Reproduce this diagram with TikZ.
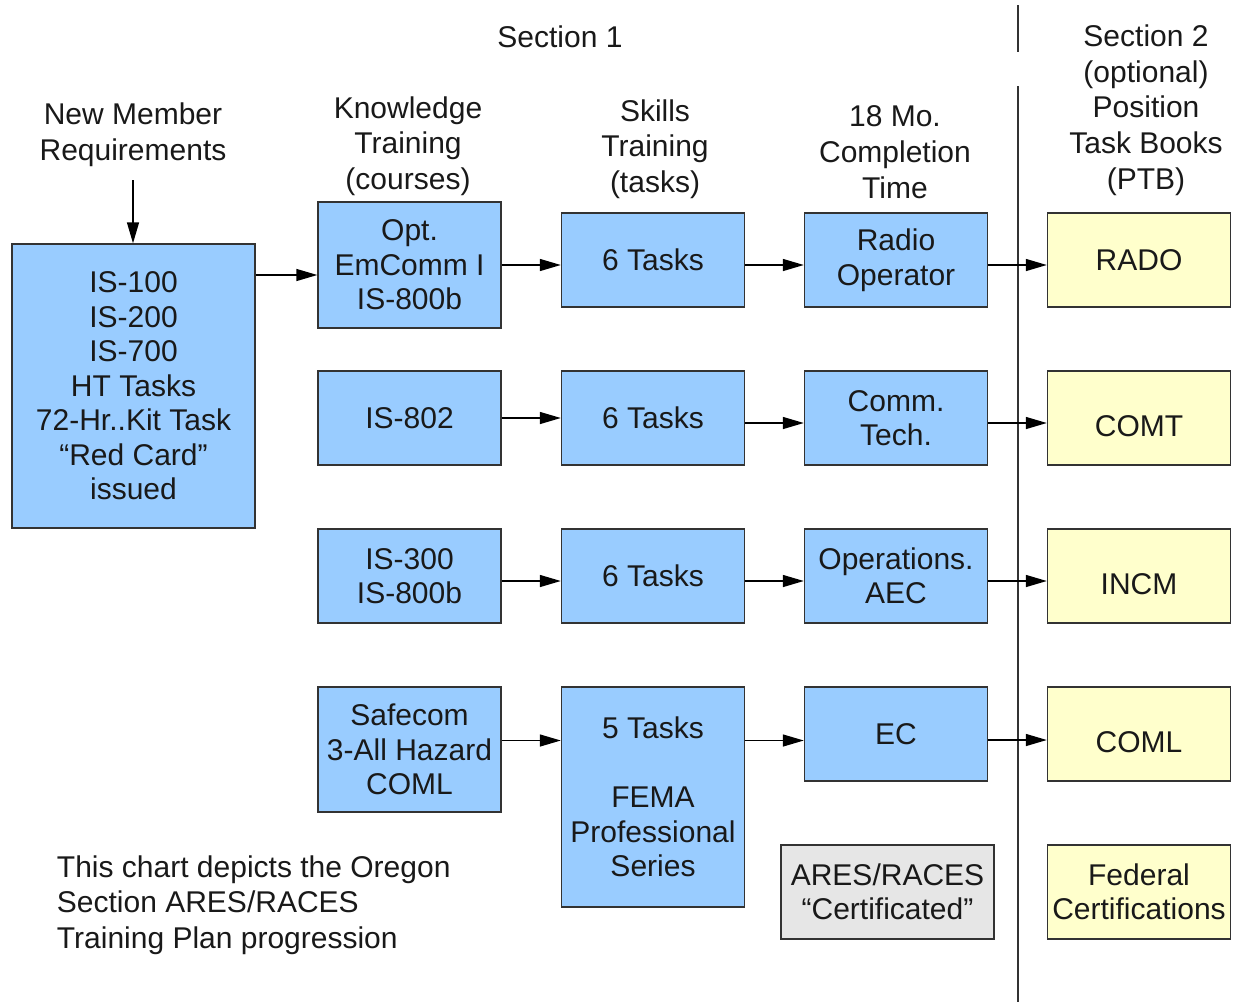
\documentclass[tikz,border=0pt]{standalone}
\usepackage{fontspec}
\setmainfont{Liberation Sans}
\usetikzlibrary{arrows.meta}

\begin{document}
\begin{tikzpicture}[x=1pt,y=1pt,yscale=-1,xscale=1,
  every node/.style={inner sep=0.75pt,font=\fontsize{30}{34.5}\selectfont,text=black!90,align=center},
  heading/.style={font=\fontsize{30}{35.7}\selectfont},
  bluebox/.style={draw=black!80,line width=1.4pt,fill={rgb,255:red,153;green,204;blue,255},minimum width=183pt,minimum height=94pt},
  yellowbox/.style={bluebox,fill={rgb,255:red,255;green,255;blue,204}},
  greybox/.style={bluebox,fill={rgb,255:red,230;green,230;blue,230}},
  flow/.style={line width=1.4pt,-{Triangle[length=21pt,width=12pt]}}]
\useasboundingbox (0,0) rectangle (1233,1002);

%Straight Lines: section divider
\draw [line width=1.3pt,black!80] (1018,5) -- (1018,52) (1018,86) -- (1018,1002);

% Text Node
\node (sec1) at (560,37) {Section 1};
% Text Node
\node [heading] (sec2) at (1146,110) {Section 2\\(optional)\\Position\\Task Books\\(PTB)};
% Text Node
\node [heading] (hnew) at (133,135) {New Member\\Requirements};
% Text Node
\node [heading] (hknow) at (408,146) {Knowledge\\Training\\(courses)};
% Text Node
\node [heading] (hskill) at (655,149) {Skills\\Training\\(tasks)};
% Text Node
\node [heading] (htime) at (895,152) {18 Mo.\\Completion\\Time};

%Shape: Rectangle, new member
\node [bluebox,minimum width=243pt,minimum height=284pt] (newm) at (133.5,386) {IS-100\\IS-200\\IS-700\\HT Tasks\\72-Hr..Kit Task\\“Red Card”\\issued};

%Shape: Rectangle, knowledge column
\node [bluebox,minimum height=126pt] (know1) at (409.5,265) {Opt.\\EmComm I\\IS-800b};
\node [bluebox] (know2) at (409.5,418) {IS-802};
\node [bluebox] (know3) at (409.5,576) {IS-300\\IS-800b};
\node [bluebox,minimum height=125pt] (know4) at (409.5,749.5) {Safecom\\3-All Hazard\\COML};

%Shape: Rectangle, skills column
\node [bluebox] (skill1) at (653,260) {6 Tasks};
\node [bluebox] (skill2) at (653,418) {6 Tasks};
\node [bluebox] (skill3) at (653,576) {6 Tasks};
\node [bluebox,minimum height=220pt] (skill4) at (653,797) {5 Tasks\\[34.5pt]FEMA\\Professional\\Series};

%Shape: Rectangle, completion column
\node [bluebox] (time1) at (896,260) {Radio\\Operator};
\node [bluebox] (time2) at (896,418) {Comm.\\Tech.};
\node [bluebox] (time3) at (896,576) {Operations.\\AEC};
\node [bluebox] (time4) at (896,734) {EC};
\node [greybox,minimum width=213pt] (cert) at (887.5,892) {ARES/RACES\\“Certificated”};

%Shape: Rectangle, task books column
\node [yellowbox] (ptb1) at (1139,260) {RADO};
\node [yellowbox] (ptb2) at (1139,418) {\raisebox{-8pt}[\height][\depth]{COMT}};
\node [yellowbox] (ptb3) at (1139,576) {\raisebox{-8pt}[\height][\depth]{INCM}};
\node [yellowbox] (ptb4) at (1139,734) {\raisebox{-8pt}[\height][\depth]{COML}};
\node [yellowbox] (fed) at (1139,892) {Federal\\Certifications};

% Text Node
\node [align=left,anchor=west,heading] (note) at (56,905) {This chart depicts the Oregon\\Section ARES/RACES\\Training Plan progression};

%Arrows
\draw [flow] (hnew.south |- 0,180) -- (newm.north -| hnew.south);
\draw [flow] ([yshift=10pt]know1.west -| newm.east) -- ([yshift=10pt]know1.west);
% row 1
\draw [flow] (know1.east) -- (know1.east -| skill1.west);
\draw [flow] (know1.east -| skill1.east) -- (know1.east -| time1.west);
\draw [flow] (know1.east -| time1.east) -- (know1.east -| ptb1.west);
% row 2
\draw [flow] (know2.east) -- (skill2.west);
\draw [flow] ([yshift=5pt]skill2.east) -- ([yshift=5pt]time2.west);
\draw [flow] ([yshift=5pt]time2.east) -- ([yshift=5pt]ptb2.west);
% row 3
\draw [flow] ([yshift=5pt]know3.east) -- ([yshift=5pt]skill3.west);
\draw [flow] ([yshift=5pt]skill3.east) -- ([yshift=5pt]time3.west);
\draw [flow] ([yshift=5pt]time3.east) -- ([yshift=5pt]ptb3.west);
% row 4
\draw [flow] ([yshift=-9pt]know4.east) -- ([yshift=-9pt]know4.east -| skill4.west);
\draw [flow] ([yshift=-9pt]know4.east -| skill4.east) -- ([yshift=-9pt]know4.east -| time4.west);
\draw [flow] ([yshift=6pt]time4.east) -- ([yshift=6pt]ptb4.west);

\end{tikzpicture}
\end{document}
